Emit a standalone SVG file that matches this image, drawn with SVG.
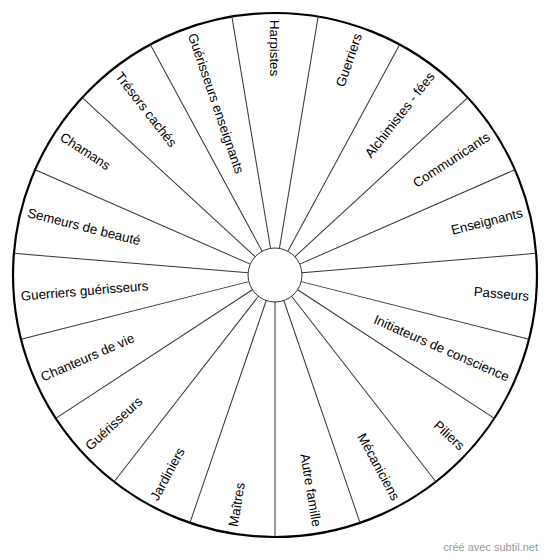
<svg xmlns="http://www.w3.org/2000/svg" width="550" height="560" viewBox="0 0 550 560">
<style>
.lbl{font-family:"Liberation Sans",Arial,sans-serif;font-size:13.3px;fill:#000}
.r{text-anchor:end}
.l{text-anchor:start}
.sep{stroke:#333;stroke-width:1}
.wm{font-family:"Liberation Sans",Arial,sans-serif;font-size:11px;fill:#999;text-anchor:end}
</style>
<rect width="550" height="560" fill="#fff"/>
<g id="rim"><circle cx="275" cy="275" r="262" fill="#fff" stroke="#000" stroke-width="2.2"/></g>
<g id="connectors">
<line class="sep" x1="302" y1="275" x2="537" y2="275" transform="rotate(-80.526 275 275)"/>
<line class="sep" x1="302" y1="275" x2="537" y2="275" transform="rotate(-61.579 275 275)"/>
<line class="sep" x1="302" y1="275" x2="537" y2="275" transform="rotate(-42.632 275 275)"/>
<line class="sep" x1="302" y1="275" x2="537" y2="275" transform="rotate(-23.684 275 275)"/>
<line class="sep" x1="302" y1="275" x2="537" y2="275" transform="rotate(-4.737 275 275)"/>
<line class="sep" x1="302" y1="275" x2="537" y2="275" transform="rotate(14.211 275 275)"/>
<line class="sep" x1="302" y1="275" x2="537" y2="275" transform="rotate(33.158 275 275)"/>
<line class="sep" x1="302" y1="275" x2="537" y2="275" transform="rotate(52.105 275 275)"/>
<line class="sep" x1="302" y1="275" x2="537" y2="275" transform="rotate(71.053 275 275)"/>
<line class="sep" x1="302" y1="275" x2="537" y2="275" transform="rotate(90 275 275)"/>
<line class="sep" x1="302" y1="275" x2="537" y2="275" transform="rotate(108.947 275 275)"/>
<line class="sep" x1="302" y1="275" x2="537" y2="275" transform="rotate(127.895 275 275)"/>
<line class="sep" x1="302" y1="275" x2="537" y2="275" transform="rotate(146.842 275 275)"/>
<line class="sep" x1="302" y1="275" x2="537" y2="275" transform="rotate(165.789 275 275)"/>
<line class="sep" x1="302" y1="275" x2="537" y2="275" transform="rotate(184.737 275 275)"/>
<line class="sep" x1="302" y1="275" x2="537" y2="275" transform="rotate(203.684 275 275)"/>
<line class="sep" x1="302" y1="275" x2="537" y2="275" transform="rotate(222.632 275 275)"/>
<line class="sep" x1="302" y1="275" x2="537" y2="275" transform="rotate(241.579 275 275)"/>
<line class="sep" x1="302" y1="275" x2="537" y2="275" transform="rotate(260.526 275 275)"/>
</g>
<g id="hub"><circle cx="275" cy="275" r="27" fill="#fff" stroke="#333" stroke-width="1"/></g>
<g id="harpistes"><text class="lbl l" x="20" y="275" dy="0.35em" transform="rotate(90 275 275)">Harpistes</text></g>
<g id="guerriers"><text class="lbl r" x="530" y="275" dy="0.35em" transform="rotate(-71.053 275 275)">Guerriers</text></g>
<g id="alchimistes"><text class="lbl r" x="530" y="275" dy="0.35em" transform="rotate(-52.105 275 275)">Alchimistes - fées</text></g>
<g id="communicants"><text class="lbl r" x="530" y="275" dy="0.35em" transform="rotate(-33.158 275 275)">Communicants</text></g>
<g id="enseignants"><text class="lbl r" x="530" y="275" dy="0.35em" transform="rotate(-14.211 275 275)">Enseignants</text></g>
<g id="passeurs"><text class="lbl r" x="530" y="275" dy="0.35em" transform="rotate(4.737 275 275)">Passeurs</text></g>
<g id="initiateurs"><text class="lbl r" x="530" y="275" dy="0.35em" transform="rotate(23.684 275 275)">Initiateurs de conscience</text></g>
<g id="piliers"><text class="lbl r" x="530" y="275" dy="0.35em" transform="rotate(42.632 275 275)">Piliers</text></g>
<g id="mecaniciens"><text class="lbl r" x="530" y="275" dy="0.35em" transform="rotate(61.579 275 275)">Mécaniciens</text></g>
<g id="autre-famille"><text class="lbl r" x="530" y="275" dy="0.35em" transform="rotate(80.526 275 275)">Autre famille</text></g>
<g id="maitres"><text class="lbl l" x="20" y="275" dy="0.35em" transform="rotate(-80.526 275 275)">Maîtres</text></g>
<g id="jardiniers"><text class="lbl l" x="20" y="275" dy="0.35em" transform="rotate(-61.579 275 275)">Jardiniers</text></g>
<g id="guerisseurs"><text class="lbl l" x="20" y="275" dy="0.35em" transform="rotate(-42.632 275 275)">Guérisseurs</text></g>
<g id="chanteurs"><text class="lbl l" x="20" y="275" dy="0.35em" transform="rotate(-23.684 275 275)">Chanteurs de vie</text></g>
<g id="guerriers-guerisseurs"><text class="lbl l" x="20" y="275" dy="0.35em" transform="rotate(-4.737 275 275)">Guerriers guérisseurs</text></g>
<g id="semeurs"><text class="lbl l" x="20" y="275" dy="0.35em" transform="rotate(14.211 275 275)">Semeurs de beauté</text></g>
<g id="chamans"><text class="lbl l" x="20" y="275" dy="0.35em" transform="rotate(33.158 275 275)">Chamans</text></g>
<g id="tresors"><text class="lbl l" x="20" y="275" dy="0.35em" transform="rotate(52.105 275 275)">Trésors cachés</text></g>
<g id="guerisseurs-enseignants"><text class="lbl l" x="20" y="275" dy="0.35em" transform="rotate(71.053 275 275)">Guérisseurs enseignants</text></g>
<text class="wm" x="538" y="551">créé avec subtil.net</text>
</svg>
